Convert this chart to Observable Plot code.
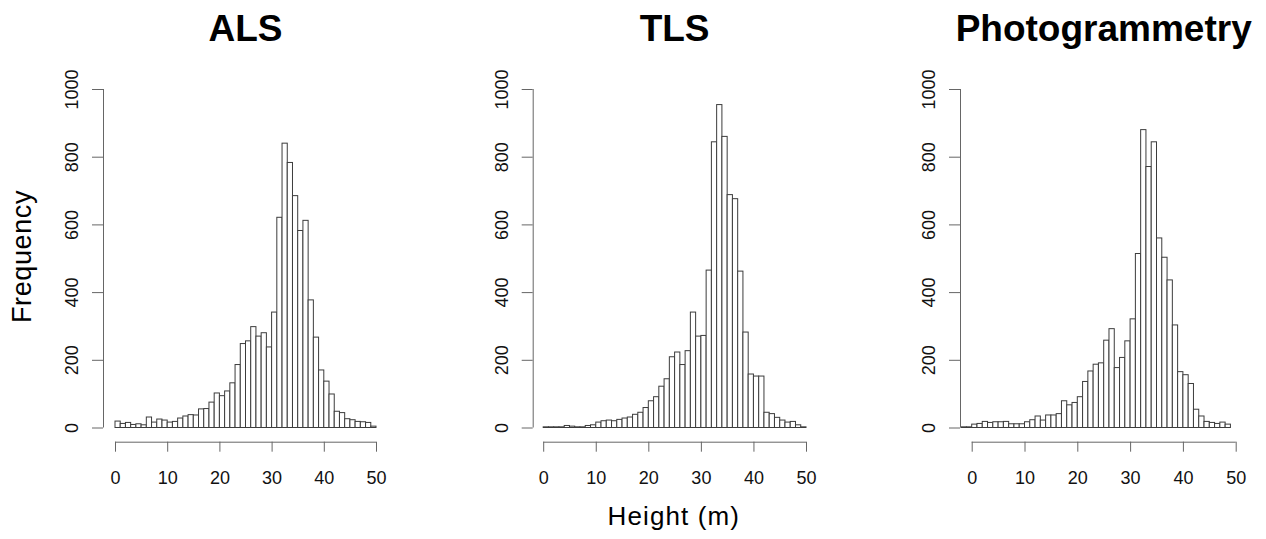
<!DOCTYPE html>
<html><head><meta charset="utf-8">
<script src="https://cdn.jsdelivr.net/npm/d3@7"></script>
<script src="https://cdn.jsdelivr.net/npm/@observablehq/plot@0.6"></script>
<style>
body{margin:0;background:#fff;}
#wrap{position:relative;width:1266px;height:539px;overflow:hidden;font-family:"Liberation Sans",Arial,sans-serif;color:#000;}
#wrap svg{position:absolute;top:0;}
.t{position:absolute;white-space:nowrap;text-align:center;line-height:1;}
</style></head><body><div id="wrap"></div>
<script>
// ---- data ----
const panelTitles = ["ALS", "TLS", "Photogrammetry"];
const xLabel = "Height (m)";
const yLabel = "Frequency";
const xTicks = [0, 10, 20, 30, 40, 50];
const yTicks = [0, 200, 400, 600, 800, 1000];
const binWidth = 1;
const alsFirstEdge = 0;
const tlsFirstEdge = 0;
const photoFirstEdge = -2;
const alsCounts = [19,12,15,9,11,8,31,16,25,22,16,18,28,34,38,37,55,56,75,102,94,108,132,186,248,256,298,270,280,238,341,621,840,783,685,582,612,377,267,170,137,99,48,44,26,23,18,17,15,4];
const tlsCounts = [2,2,2,2,6,4,2,2,6,8,16,20,22,20,24,28,31,39,45,59,79,91,122,144,209,223,186,227,341,270,272,465,844,954,860,688,676,462,282,158,152,152,45,41,30,22,16,18,8,2];
const photoCounts = [2,2,10,12,18,15,17,17,18,11,11,11,17,23,34,22,37,37,41,79,67,74,91,136,167,187,191,258,292,177,207,256,321,514,880,771,844,560,503,436,303,165,156,130,54,34,18,15,12,16,10];

// ---- layout (pixels) ----
const W = 1266, H = 539;
const yTopPx = 89, yZeroPx = 427.5, xAxisPx = 441.7;
const layout = [
  {svgLeft: 0,   width: 400, axisLeft: 103,   x0: 115,   xEnd: 376},
  {svgLeft: 430, width: 400, axisLeft: 532.7, x0: 543.2, xEnd: 806},
  {svgLeft: 860, width: 406, axisLeft: 960,   x0: 971.7, xEnd: 1235.7}
];
const series = [
  {counts: alsCounts, first: alsFirstEdge},
  {counts: tlsCounts, first: tlsFirstEdge},
  {counts: photoCounts, first: photoFirstEdge}
];

const wrap = document.getElementById("wrap");
const xMax = xTicks[xTicks.length - 1];
const yMax = yTicks[yTicks.length - 1];
const pxPerCount = (yZeroPx - yTopPx) / yMax;
const yMin = -(xAxisPx - yZeroPx) / pxPerCount;
const axisColor = "#666";

series.forEach((s, i) => {
  const L = layout[i];
  const pxPerUnit = (L.xEnd - L.x0) / (xMax - xTicks[0]);
  const xMin = xTicks[0] - (L.x0 - L.axisLeft) / pxPerUnit;
  const bins = s.counts.map((n, k) => ({x1: s.first + k * binWidth, x2: s.first + (k + 1) * binWidth, n}));
  const svg = Plot.plot({
    width: L.width,
    height: H,
    marginLeft: L.axisLeft - L.svgLeft,
    marginRight: L.width - (L.xEnd - L.svgLeft),
    marginTop: yTopPx,
    marginBottom: H - xAxisPx,
    x: {domain: [xMin, xMax]},
    y: {domain: [yMin, yMax]},
    style: {fontFamily: "'Liberation Sans', Arial, sans-serif", fontSize: "18px", color: "#111", background: "transparent", overflow: "visible"},
    marks: [
      Plot.rectY(bins, {x1: "x1", x2: "x2", y: "n", fill: "white", stroke: "#3c3c3c", strokeWidth: 1}),
      Plot.ruleX([xMin], {y1: yTicks[0], y2: yMax, stroke: axisColor}),
      Plot.axisY({ticks: yTicks, tickSize: 11, fill: "none", stroke: axisColor, label: null}),
      Plot.text(yTicks, {frameAnchor: "left", y: d => d, text: d => String(d), rotate: -90, textAnchor: "middle", lineAnchor: "bottom", dx: -25.4, fill: "#111", fontSize: 18}),
      Plot.ruleY([yMin], {x1: xTicks[0], x2: xMax, stroke: axisColor}),
      Plot.axisX({ticks: xTicks, tickSize: 10, tickPadding: 19, stroke: axisColor, fill: "#111", label: null, fontSize: 18})
    ]
  });
  svg.style.left = L.svgLeft + "px";
  wrap.appendChild(svg);

  const t = document.createElement("div");
  t.className = "t";
  t.textContent = panelTitles[i];
  t.style.cssText = `font-weight:bold;font-size:37px;width:400px;left:${(L.x0 + L.xEnd) / 2 - 200}px;top:10.4px;`;
  wrap.appendChild(t);
});

const xl = document.createElement("div");
xl.className = "t";
xl.textContent = xLabel;
xl.style.cssText = "font-size:26px;letter-spacing:1.1px;width:300px;left:523.8px;top:503px;";
wrap.appendChild(xl);

const yl = document.createElement("div");
yl.className = "t";
yl.textContent = yLabel;
yl.style.cssText = "font-size:27px;letter-spacing:0.6px;width:200px;height:27px;left:-77.7px;top:243px;transform:rotate(-90deg);";
wrap.appendChild(yl);
</script>
</body></html>
